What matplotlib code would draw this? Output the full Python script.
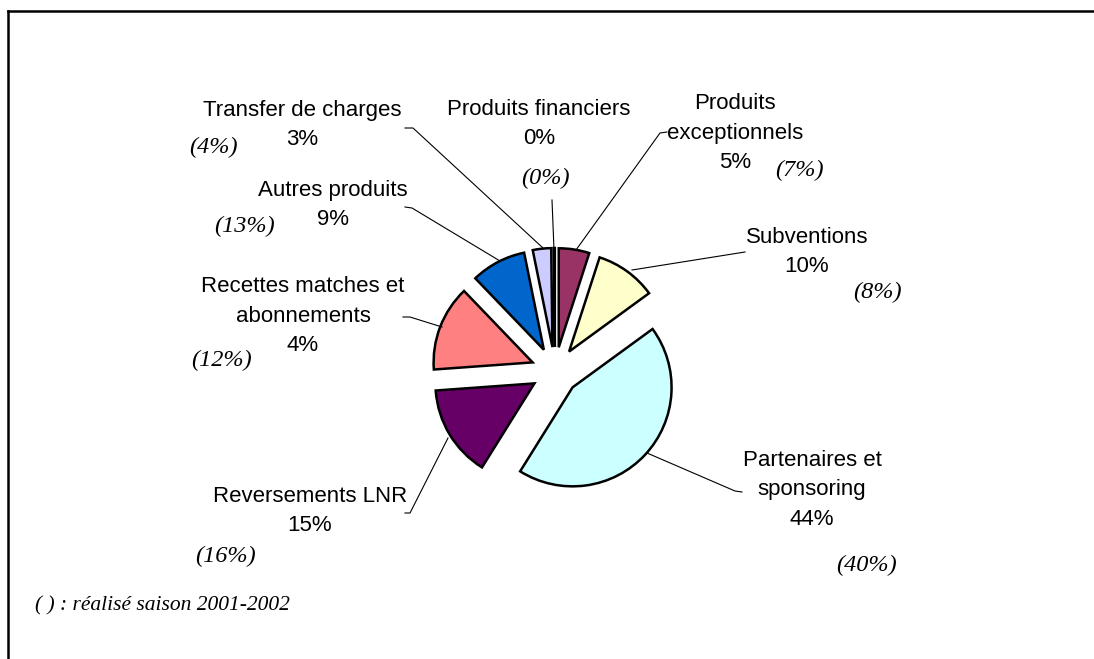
import matplotlib
matplotlib.use('Agg')
import matplotlib.pyplot as plt

W, H = 1094, 659

# slices, clockwise from 12 o'clock
categories = ['Produits\nexceptionnels', 'Subventions', 'Partenaires et\nsponsoring',
              'Reversements LNR', 'Recettes matches et\nabonnements', 'Autres produits',
              'Transfer de charges', 'Produits financiers']
shares = [5, 10, 44, 15, 14, 9, 3, 0.2]
shown_pct = ['5%', '10%', '44%', '15%', '4%', '9%', '3%', '0%']
previous_pct = ['(7%)', '(8%)', '(40%)', '(16%)', '(12%)', '(13%)', '(4%)', '(0%)']
colors = ['#993366', '#FFFFCC', '#CCFFFF', '#660066', '#FF8080', '#0066CC', '#CCCCFF', '#000000']
footnote = '( ) : réalisé saison 2001-2002'

# label layout in image pixels (x, y from top)
label_pos = [(735, 133), (807, 252), (812, 490), (310, 511),
             (303, 316), (333, 205), (302, 125), (539, 124)]
prev_pos = [(799, 170), (877, 292), (867, 565), (226, 556),
            (222, 360), (245, 226), (213, 147), (545, 178)]
leaders = [
    [(667, 132), (660, 133), (576, 250)],
    [(745, 252), (632, 270)],
    [(742, 492), (735, 491), (647, 453)],
    [(405, 513), (410, 513), (448, 438)],
    [(403, 317), (410, 317), (442, 327)],
    [(405, 207), (412, 208), (500, 261)],
    [(405, 128), (413, 128), (543, 248)],
    [(552, 200), (554, 250)],
]


def flip(y):
    return H - y


fig = plt.figure(figsize=(W / 100, H / 100), dpi=100)
ax = fig.add_axes([0, 0, 1, 1])

ax.pie(shares, colors=colors, startangle=90, counterclock=False,
       explode=[24] * len(shares), radius=99, center=(555, flip(371)),
       wedgeprops=dict(edgecolor='black', linewidth=1.8))

for (x, y), name, pct in zip(label_pos, categories, shown_pct):
    ax.text(x, flip(y), f'{name}\n{pct}', ha='center', va='center',
            fontsize=16, family='Liberation Sans', linespacing=1.55)

for (x, y), txt in zip(prev_pos, previous_pct):
    ax.text(x, flip(y), txt, ha='center', va='center', fontsize=17.5,
            family='Liberation Serif', style='italic')

for pts in leaders:
    ax.plot([p[0] for p in pts], [flip(p[1]) for p in pts], color='black', lw=0.8)

ax.text(35, flip(606), footnote, ha='left', va='center', fontsize=15.5,
        family='Liberation Serif', style='italic')

# chart frame (only top and left edges fall inside the picture)
ax.plot([8, W + 5], [flip(11), flip(11)], color='black', lw=1.8)
ax.plot([8, 8], [flip(11), -5], color='black', lw=1.8)

ax.set_xlim(0, W)
ax.set_ylim(0, H)
ax.set_aspect('auto')
ax.axis('off')

fig.savefig('out.png', dpi=100)
